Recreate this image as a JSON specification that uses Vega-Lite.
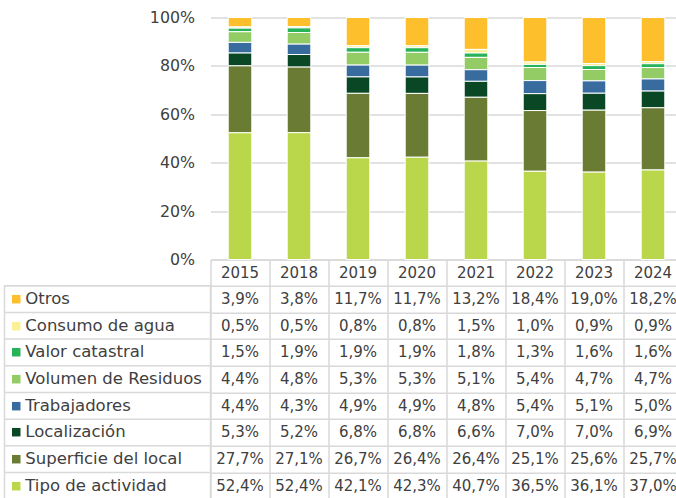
{
  "$schema": "https://vega.github.io/schema/vega-lite/v6.json",
  "padding": {"left": 2.5, "top": 9.5, "right": 0, "bottom": 0},
  "config": {"view": {"stroke": null}, "font": "DejaVu Sans"},
  "datasets": {
    "valores": [
      {"serie": "Otros", "anio": "2015", "valor": 3.9}, {"serie": "Otros", "anio": "2018", "valor": 3.8}, {"serie": "Otros", "anio": "2019", "valor": 11.7}, {"serie": "Otros", "anio": "2020", "valor": 11.7}, {"serie": "Otros", "anio": "2021", "valor": 13.2}, {"serie": "Otros", "anio": "2022", "valor": 18.4}, {"serie": "Otros", "anio": "2023", "valor": 19.0}, {"serie": "Otros", "anio": "2024", "valor": 18.2},
      {"serie": "Consumo de agua", "anio": "2015", "valor": 0.5}, {"serie": "Consumo de agua", "anio": "2018", "valor": 0.5}, {"serie": "Consumo de agua", "anio": "2019", "valor": 0.8}, {"serie": "Consumo de agua", "anio": "2020", "valor": 0.8}, {"serie": "Consumo de agua", "anio": "2021", "valor": 1.5}, {"serie": "Consumo de agua", "anio": "2022", "valor": 1.0}, {"serie": "Consumo de agua", "anio": "2023", "valor": 0.9}, {"serie": "Consumo de agua", "anio": "2024", "valor": 0.9},
      {"serie": "Valor catastral", "anio": "2015", "valor": 1.5}, {"serie": "Valor catastral", "anio": "2018", "valor": 1.9}, {"serie": "Valor catastral", "anio": "2019", "valor": 1.9}, {"serie": "Valor catastral", "anio": "2020", "valor": 1.9}, {"serie": "Valor catastral", "anio": "2021", "valor": 1.8}, {"serie": "Valor catastral", "anio": "2022", "valor": 1.3}, {"serie": "Valor catastral", "anio": "2023", "valor": 1.6}, {"serie": "Valor catastral", "anio": "2024", "valor": 1.6},
      {"serie": "Volumen de Residuos", "anio": "2015", "valor": 4.4}, {"serie": "Volumen de Residuos", "anio": "2018", "valor": 4.8}, {"serie": "Volumen de Residuos", "anio": "2019", "valor": 5.3}, {"serie": "Volumen de Residuos", "anio": "2020", "valor": 5.3}, {"serie": "Volumen de Residuos", "anio": "2021", "valor": 5.1}, {"serie": "Volumen de Residuos", "anio": "2022", "valor": 5.4}, {"serie": "Volumen de Residuos", "anio": "2023", "valor": 4.7}, {"serie": "Volumen de Residuos", "anio": "2024", "valor": 4.7},
      {"serie": "Trabajadores", "anio": "2015", "valor": 4.4}, {"serie": "Trabajadores", "anio": "2018", "valor": 4.3}, {"serie": "Trabajadores", "anio": "2019", "valor": 4.9}, {"serie": "Trabajadores", "anio": "2020", "valor": 4.9}, {"serie": "Trabajadores", "anio": "2021", "valor": 4.8}, {"serie": "Trabajadores", "anio": "2022", "valor": 5.4}, {"serie": "Trabajadores", "anio": "2023", "valor": 5.1}, {"serie": "Trabajadores", "anio": "2024", "valor": 5.0},
      {"serie": "Localización", "anio": "2015", "valor": 5.3}, {"serie": "Localización", "anio": "2018", "valor": 5.2}, {"serie": "Localización", "anio": "2019", "valor": 6.8}, {"serie": "Localización", "anio": "2020", "valor": 6.8}, {"serie": "Localización", "anio": "2021", "valor": 6.6}, {"serie": "Localización", "anio": "2022", "valor": 7.0}, {"serie": "Localización", "anio": "2023", "valor": 7.0}, {"serie": "Localización", "anio": "2024", "valor": 6.9},
      {"serie": "Superficie del local", "anio": "2015", "valor": 27.7}, {"serie": "Superficie del local", "anio": "2018", "valor": 27.1}, {"serie": "Superficie del local", "anio": "2019", "valor": 26.7}, {"serie": "Superficie del local", "anio": "2020", "valor": 26.4}, {"serie": "Superficie del local", "anio": "2021", "valor": 26.4}, {"serie": "Superficie del local", "anio": "2022", "valor": 25.1}, {"serie": "Superficie del local", "anio": "2023", "valor": 25.6}, {"serie": "Superficie del local", "anio": "2024", "valor": 25.7},
      {"serie": "Tipo de actividad", "anio": "2015", "valor": 52.4}, {"serie": "Tipo de actividad", "anio": "2018", "valor": 52.4}, {"serie": "Tipo de actividad", "anio": "2019", "valor": 42.1}, {"serie": "Tipo de actividad", "anio": "2020", "valor": 42.3}, {"serie": "Tipo de actividad", "anio": "2021", "valor": 40.7}, {"serie": "Tipo de actividad", "anio": "2022", "valor": 36.5}, {"serie": "Tipo de actividad", "anio": "2023", "valor": 36.1}, {"serie": "Tipo de actividad", "anio": "2024", "valor": 37.0}
    ],
    "series": [
      {"serie": "Otros"}, {"serie": "Consumo de agua"}, {"serie": "Valor catastral"}, {"serie": "Volumen de Residuos"},
      {"serie": "Trabajadores"}, {"serie": "Localización"}, {"serie": "Superficie del local"}, {"serie": "Tipo de actividad"}
    ]
  },
  "columns": 2,
  "spacing": {"row": 26.2, "column": 0},
  "bounds": "flush",
  "align": "each",
  "concat": [
    {
      "width": 206,
      "height": 242,
      "data": {"values": [{}]},
      "mark": {"type": "text", "text": ""},
      "encoding": {}
    },
    {
      "width": 472,
      "height": 242,
      "data": {"name": "valores"},
      "transform": [
        {"calculate": "indexof(['Tipo de actividad','Superficie del local','Localización','Trabajadores','Volumen de Residuos','Valor catastral','Consumo de agua','Otros'], datum.serie)", "as": "orden"}
      ],
      "mark": {"type": "bar", "stroke": "#ffffff", "strokeWidth": 1},
      "encoding": {
        "x": {
          "field": "anio", "type": "nominal", "sort": "ascending",
          "scale": {"paddingInner": 0.6, "paddingOuter": 0.3},
          "axis": {
            "title": null, "orient": "bottom", "labelAngle": 0,
            "domain": true, "domainColor": "#d9d9d9", "domainWidth": 1.5,
            "ticks": false,
            "labelBaseline": "middle", "labelPadding": 13,
            "labelFontSize": 15, "labelColor": "#404040", "labelFont": "DejaVu Sans"
          }
        },
        "y": {
          "field": "valor", "type": "quantitative", "stack": "normalize",
          "axis": {
            "title": null, "values": [0, 0.2, 0.4, 0.6, 0.8, 1], "format": ".0%",
            "grid": true, "gridColor": "#d9d9d9", "gridWidth": 1.5,
            "domain": false, "ticks": false, "labelPadding": 16,
            "labelFontSize": 15.8, "labelColor": "#404040", "labelFont": "DejaVu Sans"
          }
        },
        "color": {
          "field": "serie", "type": "nominal", "legend": null,
          "scale": {
            "domain": ["Otros", "Consumo de agua", "Valor catastral", "Volumen de Residuos", "Trabajadores", "Localización", "Superficie del local", "Tipo de actividad"],
            "range": ["#FDBF2B", "#FBF096", "#28B259", "#93CB64", "#386C9E", "#0A4825", "#6A7B33", "#BAD64B"]
          }
        },
        "order": {"field": "orden", "type": "quantitative"}
      }
    },
    {
      "width": 206,
      "height": 213.5,
      "view": {"stroke": "#d9d9d9", "strokeWidth": 1.5},
      "data": {"name": "series"},
      "mark": {"type": "rule", "color": "#d9d9d9", "strokeWidth": 1.5},
      "encoding": {
        "y": {
          "field": "serie", "type": "nominal", "bandPosition": 0,
          "scale": {"type": "band", "paddingInner": 0, "paddingOuter": 0,
            "domain": ["Otros", "Consumo de agua", "Valor catastral", "Volumen de Residuos", "Trabajadores", "Localización", "Superficie del local", "Tipo de actividad"]},
          "axis": {
            "title": null, "orient": "left", "offset": -15.5, "domain": false,
            "tickSize": 8.5, "tickWidth": 8.5,
            "tickColor": {
              "condition": [
                {"test": "datum.value === 'Otros'", "value": "#FDBF2B"},
                {"test": "datum.value === 'Consumo de agua'", "value": "#FBF096"},
                {"test": "datum.value === 'Valor catastral'", "value": "#28B259"},
                {"test": "datum.value === 'Volumen de Residuos'", "value": "#93CB64"},
                {"test": "datum.value === 'Trabajadores'", "value": "#386C9E"},
                {"test": "datum.value === 'Localización'", "value": "#0A4825"},
                {"test": "datum.value === 'Superficie del local'", "value": "#6A7B33"}
              ],
              "value": "#BAD64B"
            },
            "labelAlign": "left", "labelBaseline": "middle", "labelPadding": -13.3, "labelLimit": 0,
            "labelFontSize": 16.5, "labelColor": "#404040", "labelFont": "DejaVu Sans"
          }
        }
      }
    },
    {
      "width": 472,
      "height": 213.5,
      "data": {"name": "valores"},
      "transform": [
        {"calculate": "replace(format(datum.valor, '.1f'), '.', ',') + '%'", "as": "etiqueta"}
      ],
      "mark": {"type": "text", "fontSize": 15, "color": "#404040", "baseline": "middle", "align": "center"},
      "encoding": {
        "x": {
          "field": "anio", "type": "nominal", "sort": "ascending",
          "scale": {"type": "band", "paddingInner": 0, "paddingOuter": 0},
          "axis": {"title": null, "orient": "top", "labels": false, "domain": false,
            "ticks": true, "tickSize": 26.2, "tickColor": "#d9d9d9", "tickWidth": 1.5,
            "grid": true, "tickBand": "extent", "gridColor": "#d9d9d9", "gridWidth": 1.5}
        },
        "y": {
          "field": "serie", "type": "nominal",
          "scale": {"type": "band", "paddingInner": 0, "paddingOuter": 0,
            "domain": ["Otros", "Consumo de agua", "Valor catastral", "Volumen de Residuos", "Trabajadores", "Localización", "Superficie del local", "Tipo de actividad"]},
          "axis": {"title": null, "labels": false, "ticks": false, "domain": false,
            "grid": true, "tickBand": "extent", "gridColor": "#d9d9d9", "gridWidth": 1.5}
        },
        "text": {"field": "etiqueta"}
      }
    }
  ]
}
